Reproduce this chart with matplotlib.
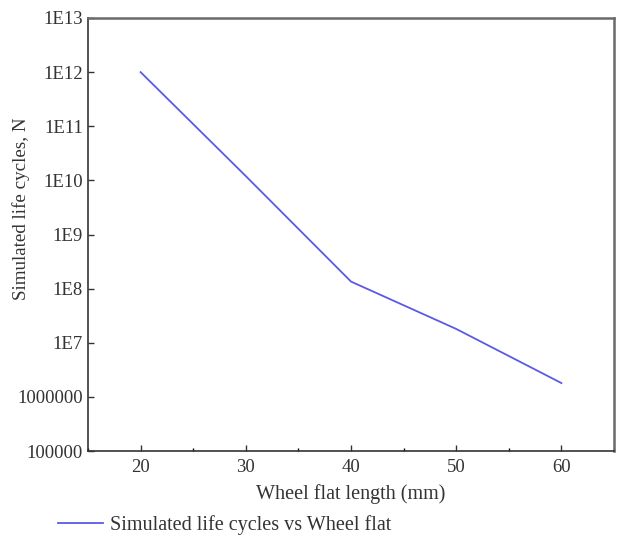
import matplotlib
matplotlib.use("Agg")
import matplotlib.pyplot as plt
from matplotlib.ticker import FixedLocator, FixedFormatter, MultipleLocator

# === DATA ===
flat_length_mm = [20, 30, 40, 50, 60]
life_cycles = [1.0e12, 1.2e10, 1.35e8, 1.8e7, 1.8e6]

y_ticks = [1e5, 1e6, 1e7, 1e8, 1e9, 1e10, 1e11, 1e12, 1e13]
y_tick_labels = ["100000", "1000000", "1E7", "1E8", "1E9", "1E10", "1E11", "1E12", "1E13"]
x_ticks = [20, 30, 40, 50, 60]

plt.rcParams['font.family'] = ['Liberation Serif', 'DejaVu Serif']

fig = plt.figure(figsize=(6.23, 5.4), dpi=100)
ax = fig.add_axes([88 / 623, 1 - 451 / 540, (614 - 88) / 623, (451 - 18) / 540])

ax.plot(flat_length_mm, life_cycles, color="#5a5ae6", linewidth=1.3,
        label="Simulated life cycles vs Wheel flat")

ax.set_yscale("log")
ax.set_ylim(1e5, 1e13)
ax.set_xlim(15, 65)
ax.yaxis.set_major_locator(FixedLocator(y_ticks))
ax.yaxis.set_major_formatter(FixedFormatter(y_tick_labels))
ax.yaxis.set_minor_locator(FixedLocator([]))
ax.set_xticks(x_ticks)
ax.xaxis.set_minor_locator(MultipleLocator(5))

ax.tick_params(axis="both", which="major", direction="in", length=4, width=1,
               labelsize=13.5, colors="#333333", labelcolor="#333333")
ax.tick_params(axis="x", which="major", pad=6)
ax.tick_params(axis="x", which="minor", direction="in", length=2.5, width=1)
ax.tick_params(top=False, right=False)

for side in ["left", "bottom"]:
    ax.spines[side].set_color("#333333")
    ax.spines[side].set_linewidth(1.2)
for side in ["top", "right"]:
    ax.spines[side].set_color("#6a6a6a")
    ax.spines[side].set_linewidth(1.8)

ax.set_xlabel("Wheel flat length (mm)", fontsize=14.5, color="#333333")
ax.set_ylabel("Simulated life cycles, N", fontsize=13.7, color="#333333")
ax.xaxis.set_label_coords(0.5, -0.076)
ax.yaxis.set_label_coords(-0.11, 0.56)

fig.legend(loc="center left", bbox_to_anchor=(0.064, 1 - 525 / 540), frameon=False,
           fontsize=14.5, handlelength=2.25, handletextpad=0.35, labelcolor="#333333")

fig.savefig("out.png", dpi=100)
